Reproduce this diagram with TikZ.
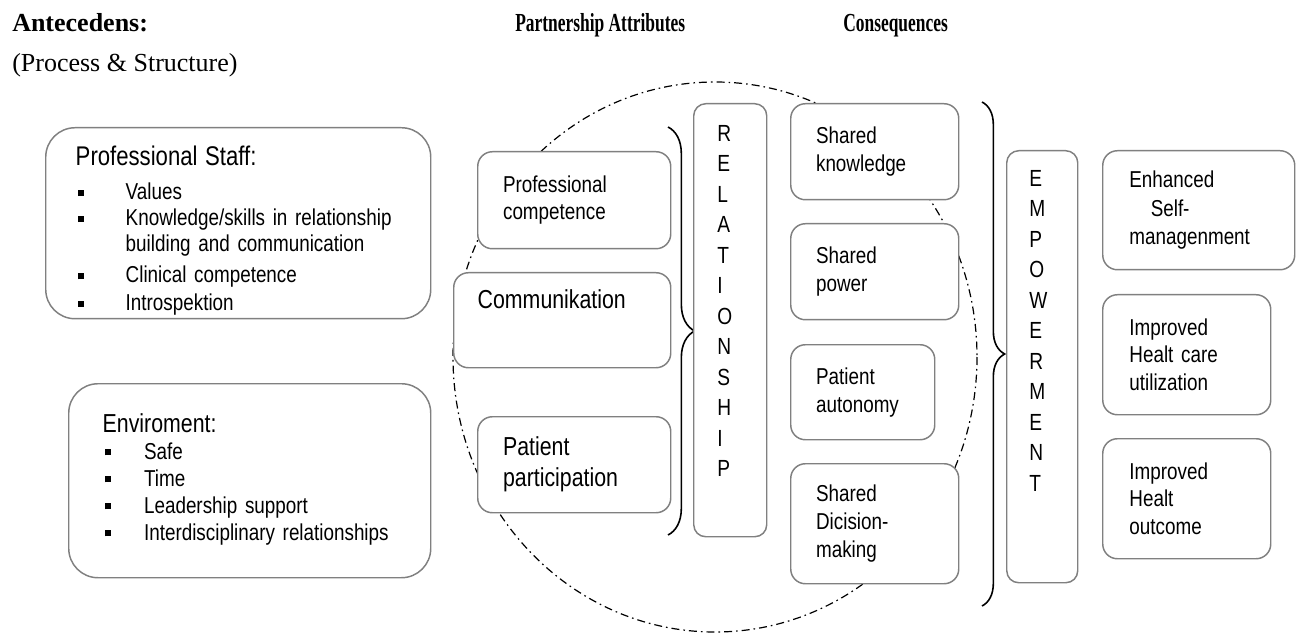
\documentclass[tikz,border=0pt]{standalone}
\usepackage{fontspec}
\usepackage{graphicx}
\setmainfont{Liberation Serif}
\newfontfamily\narrowsf[FakeStretch=0.82]{Liberation Sans}
\usetikzlibrary{decorations.pathreplacing,calc}
\definecolor{boxgray}{RGB}{128,128,128}
\newcommand{\sqbul}{\hspace*{1.5pt}\rule[0.3ex]{4.5pt}{4.5pt}}
\newcommand{\fs}[2]{\fontsize{#1}{#2}\selectfont}

\begin{document}
\begin{tikzpicture}[x=0.75pt,y=-0.75pt,
        every node/.style={inner sep=0pt},
        pbox/.style={draw=boxgray,line width=1.1pt,fill=white,rounded corners=11pt,
          anchor=north west,align=left,inner xsep=19pt,inner ysep=0pt,font=\narrowsf\fs{17.25}{21}},
        bigbox/.style={pbox,rounded corners=22pt,inner xsep=22.5pt},
        bar/.style={draw=boxgray,line width=1.1pt,fill=white,rounded corners=9pt,anchor=north west},
        letter/.style={anchor=west,font=\narrowsf\fs{17.5}{18}},
        bracket/.style={decorate,line width=1.2pt,decoration={brace,amplitude=#1}},
        dashdot/.style={line width=0.9pt,dash pattern=on 6pt off 3pt on 1.2pt off 3pt},
        head/.style={anchor=base west}]
        \useasboundingbox (0,0) rectangle (1298,634);

        \node[head,font=\bfseries\fs{19.5}{23}] (hant) at (12,32) {Antecedens:};
        \node[head,font=\fs{19.5}{23}] (hproc) at (12,72) {(Process \& Structure)};
        \node[head,font=\fs{19.5}{23}] (hpart) at (515,32) {\scalebox{0.67}[1]{\bfseries Partnership Attributes}};
        \node[head,font=\fs{19.5}{23}] (hcons) at (843,32) {\scalebox{0.67}[1]{\bfseries Consequences}};

        \draw[dashdot] (715,357) ellipse [x radius=262,y radius=275];

        \node[bigbox,minimum width=288.75pt,minimum height=143.25pt,text width=243.75pt,
              font=\narrowsf\fs{17.25}{19.5}] (staff) at (45,127) {%
          \begin{tabular}{@{}p{37.5pt}@{}l@{}}
            \multicolumn{2}{@{}l@{}}{\rule{0pt}{28pt}\fs{20.25}{24}Professional Staff:}\\[6pt]
            \sqbul & Values\\
            \sqbul & Knowledge/skills in relationship\\
                   & building and communication\\[4pt]
            \sqbul & Clinical competence\\[1pt]
            \sqbul & Introspektion
          \end{tabular}};
        \node[bigbox,minimum width=271.5pt,minimum height=145.5pt,text width=226.5pt,
              font=\narrowsf\fs{17.25}{20.25}] (env) at (68,383) {%
          \begin{tabular}{@{}p{34pt}@{}l@{}}
            \multicolumn{2}{@{}l@{}}{\hspace*{3pt}\fs{19.5}{23}Enviroment:}\\
            \hspace*{3pt}\sqbul & Safe\\
            \hspace*{3pt}\sqbul & Time\\
            \hspace*{3pt}\sqbul & Leadership support\\
            \hspace*{3pt}\sqbul & Interdisciplinary relationships
          \end{tabular}};

        \node[pbox,minimum width=144.75pt,minimum height=72.75pt,text width=106.75pt,
              font=\narrowsf\fs{17.25}{20.25}] (procomp) at (477,151) {Professional\\competence};
        \node[pbox,minimum width=162.75pt,minimum height=71.25pt,inner xsep=18pt,text width=126.75pt,
              font=\narrowsf\fs{19.5}{24}] (comm) at (453,272) {Communikation\\\strut};
        \node[pbox,minimum width=144.75pt,minimum height=72pt,text width=106.75pt,
              font=\narrowsf\fs{19.5}{23.25}] (patpart) at (477,416) {Patient\\participation};

        \coordinate (b1top) at (668,127);
        \coordinate (b1bot) at (668,535);
        \draw[bracket=20pt] (b1top) -- (b1bot);

        \node[bar,minimum width=54.75pt,minimum height=324.75pt] (rel) at (693,103) {};
        \foreach \ch [count=\i from 0] in {R,E,L,A,T,I,O,N,S,H,I,P}
          \node[letter] (rel\i) at (717,133+30.5*\i) {\ch};

        \node[pbox,minimum width=126pt,minimum height=72pt,text width=88pt] (shknow) at (790,103) {Shared\\knowledge};
        \node[pbox,minimum width=126pt,minimum height=72pt,text width=88pt] (shpower) at (790,223) {Shared\\power};
        \node[pbox,minimum width=108pt,minimum height=71.25pt,text width=70pt] (patauto) at (790,344) {Patient\\autonomy};
        \node[pbox,minimum width=126pt,minimum height=90pt,text width=88pt] (shdec) at (790,463) {Shared\\Dicision-\\making};

        \coordinate (b2top) at (982,102);
        \coordinate (b2bot) at (982,606);
        \draw[bracket=17pt] (b2top) -- (b2bot);

        \node[bar,minimum width=53.25pt,minimum height=324pt] (emp) at (1006,150) {};
        \foreach \ch [count=\i from 0] in {E,M,P,O,W,E,R,M,E,N,T}
          \node[letter] (emp\i) at (1029,178+30.5*\i) {\ch};

        \node[pbox,minimum width=144pt,minimum height=89.25pt,inner xsep=20pt,text width=104pt,
              font=\narrowsf\fs{17.25}{21.4}] (enh) at (1102,150) {Enhanced\\\hspace*{16pt}Self-\\managenment};
        \node[pbox,minimum width=126pt,minimum height=90pt,inner xsep=20pt,text width=86pt,
              font=\narrowsf\fs{17.25}{20.6}] (impcare) at (1102,294) {Improved\\Healt care\\utilization};
        \node[pbox,minimum width=126pt,minimum height=90pt,inner xsep=20pt,text width=86pt,
              font=\narrowsf\fs{17.25}{20.6}] (impout) at (1102,438) {Improved\\Healt\\outcome};
\end{tikzpicture}
\end{document}
